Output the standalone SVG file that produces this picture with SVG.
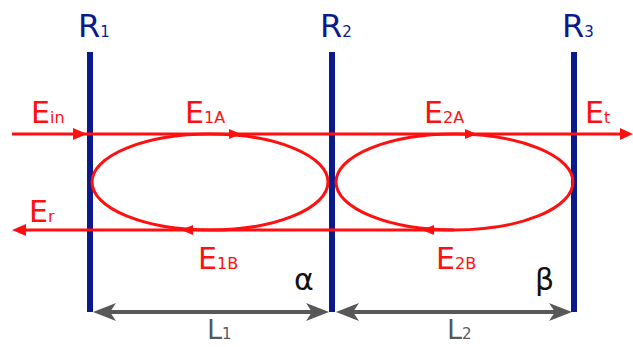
<svg xmlns="http://www.w3.org/2000/svg" width="633" height="347" viewBox="0 0 633 347">
<style>
.mirror{stroke:#0a1a8c;stroke-width:6;fill:none}
.beam{stroke:#ff1010;stroke-width:3;fill:none}
.loop{stroke:#ff1010;stroke-width:3;fill:none}
.ah{fill:#ff1010}
.dim{stroke:#585858;stroke-width:4;fill:none}
.dah{fill:#585858}
text{font-family:"DejaVu Sans","Verdana",sans-serif}
.rl{fill:#0a1a8c;font-size:32px}
.el{fill:#ff1010;font-size:30px}
.ll{fill:#585858;font-size:27px}
.gl{fill:#111;font-size:30px}
.sub{font-size:16px}
.rsub{font-size:15px}
</style>
<g id="mirrors">
<g id="R1"><line class="mirror" x1="90" y1="52" x2="90" y2="312"/><text class="rl" x="78" y="37">R<tspan class="rsub">1</tspan></text></g>
<g id="R2"><line class="mirror" x1="332" y1="52" x2="332" y2="312"/><text class="rl" x="320" y="37">R<tspan class="rsub">2</tspan></text></g>
<g id="R3"><line class="mirror" x1="574" y1="52" x2="574" y2="312"/><text class="rl" x="562" y="37">R<tspan class="rsub">3</tspan></text></g>
</g>
<g id="connectors">
<line class="beam" x1="12" y1="134" x2="622" y2="134"/>
<line class="beam" x1="24" y1="230" x2="454" y2="230"/>
<ellipse class="loop" cx="210" cy="182" rx="118" ry="48"/>
<ellipse class="loop" cx="454.5" cy="182" rx="118.5" ry="48"/>
<polygon class="ah" points="87,134 73,128 73,140"/>
<polygon class="ah" points="241,134 229,129 229,139"/>
<polygon class="ah" points="477,134 465,129 465,139"/>
<polygon class="ah" points="633,134 620,128 620,140"/>
<polygon class="ah" points="12,230 26,224 26,236"/>
<polygon class="ah" points="181,230 193,225 193,235"/>
<polygon class="ah" points="422,230 434,225 434,235"/>
<line class="dim" x1="100" y1="312" x2="322" y2="312"/>
<line class="dim" x1="343" y1="312" x2="565" y2="312"/>
<polygon class="dah" points="93,312 116,303 110,312 116,321"/>
<polygon class="dah" points="329,312 306,303 312,312 306,321"/>
<polygon class="dah" points="336,312 359,303 353,312 359,321"/>
<polygon class="dah" points="572,312 549,303 555,312 549,321"/>
</g>
<g id="labels">
<text class="el" x="31" y="123">E<tspan class="sub">in</tspan></text>
<text class="el" x="185" y="123">E<tspan class="sub">1A</tspan></text>
<text class="el" x="424" y="123">E<tspan class="sub">2A</tspan></text>
<text class="el" x="585" y="123">E<tspan class="sub">t</tspan></text>
<text class="el" x="29" y="222">E<tspan class="sub">r</tspan></text>
<text class="el" x="198" y="269">E<tspan class="sub">1B</tspan></text>
<text class="el" x="436" y="269">E<tspan class="sub">2B</tspan></text>
<text class="gl" x="294" y="290">α</text>
<text class="gl" x="535" y="290">β</text>
<text class="ll" x="207" y="339">L<tspan class="rsub">1</tspan></text>
<text class="ll" x="447" y="339">L<tspan class="rsub">2</tspan></text>
</g>
</svg>
